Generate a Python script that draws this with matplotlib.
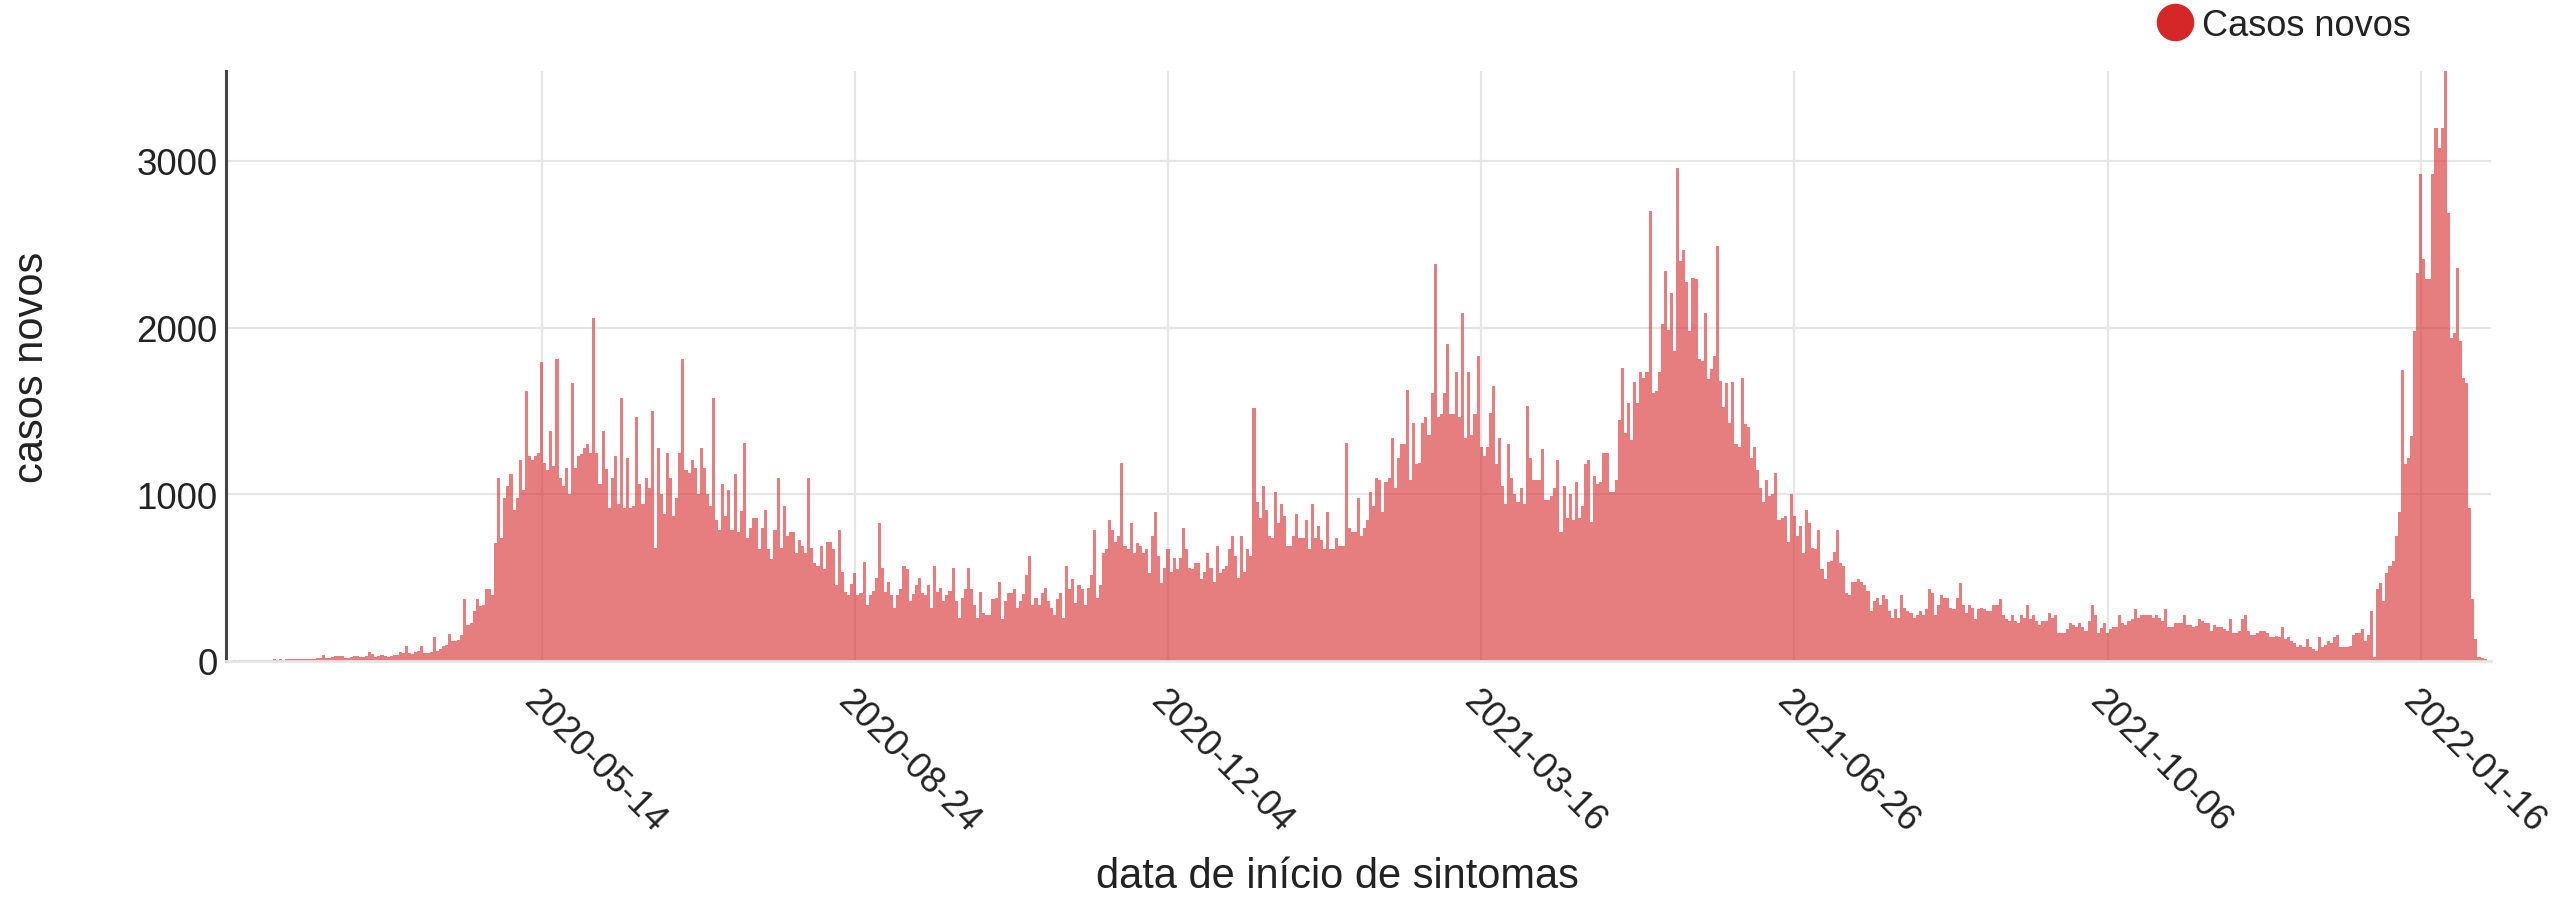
import pandas as pd
import matplotlib
matplotlib.use('Agg')
import matplotlib.pyplot as plt
import matplotlib.dates as mdates
from matplotlib.lines import Line2D

plt.rcParams['font.family'] = ['Liberation Sans', 'DejaVu Sans']

# daily new cases by symptom onset date, first day 2020-02-02
inicio = '2020-02-02'
casos_novos = [
    2, 1, 3, 2, 4, 3, 5, 4, 6, 5,
    4, 6, 8, 7, 6, 9, 8, 10, 7, 9,
    12, 10, 11, 9, 13, 12, 10, 14, 12, 15,
    20, 35, 18, 15, 22, 30, 28, 30, 20, 18,
    25, 30, 28, 22, 25, 30, 55, 40, 22, 30,
    35, 32, 25, 30, 38, 35, 55, 50, 90, 45,
    40, 55, 60, 90, 50, 48, 52, 145, 60, 70,
    90, 95, 160, 120, 120, 125, 155, 370, 215, 230,
    300, 370, 330, 334, 430, 430, 395, 710, 1100, 740,
    980, 1050, 1120, 905, 980, 1205, 1025, 1620, 1230, 1205,
    1230, 1250, 1795, 1190, 1145, 1380, 1170, 1810, 1100, 1050,
    1155, 1000, 1670, 1155, 1230, 1240, 1275, 1300, 1250, 2060,
    1250, 1060, 1380, 1150, 920, 1100, 1230, 940, 1575, 920,
    1215, 920, 930, 1465, 1060, 940, 1095, 1035, 1500, 680,
    1275, 1000, 880, 1250, 1100, 870, 980, 1250, 1810, 1145,
    1130, 1205, 1160, 1000, 1275, 1155, 1000, 930, 1575, 845,
    785, 1060, 870, 1025, 785, 1120, 775, 900, 1305, 740,
    800, 860, 860, 670, 800, 905, 670, 610, 785, 1095,
    680, 930, 750, 775, 775, 645, 725, 690, 645, 1095,
    680, 585, 570, 690, 550, 715, 715, 670, 455, 785,
    535, 415, 395, 460, 525, 395, 405, 595, 335, 395,
    420, 500, 825, 560, 415, 475, 395, 320, 395, 430,
    570, 550, 360, 400, 455, 500, 405, 395, 455, 320,
    570, 415, 440, 360, 395, 420, 560, 360, 260, 380,
    430, 560, 430, 335, 260, 415, 285, 275, 275, 370,
    380, 475, 250, 360, 405, 405, 430, 320, 360, 400,
    515, 630, 335, 380, 335, 405, 440, 360, 320, 275,
    370, 405, 260, 570, 430, 490, 345, 455, 430, 335,
    440, 515, 785, 380, 455, 645, 670, 845, 785, 715,
    750, 1190, 690, 670, 825, 645, 705, 690, 645, 670,
    525, 750, 895, 630, 465, 560, 670, 535, 620, 550,
    620, 800, 670, 560, 550, 585, 585, 490, 535, 645,
    560, 475, 690, 525, 550, 570, 670, 750, 630, 500,
    750, 535, 670, 630, 1515, 955, 860, 1050, 905, 750,
    740, 1015, 825, 940, 870, 690, 690, 750, 880, 740,
    740, 845, 670, 940, 740, 810, 725, 670, 895, 670,
    670, 740, 690, 690, 1305, 800, 775, 775, 980, 750,
    800, 845, 1015, 930, 1095, 1085, 895, 1075, 1100, 1340,
    1035, 1215, 1300, 1300, 1625, 1085, 1430, 1180, 1190, 1430,
    1465, 1355, 1610, 2380, 1465, 1480, 1610, 1900, 1480, 1480,
    1735, 1465, 2090, 1340, 1735, 1355, 1480, 1830, 1285, 1230,
    1285, 1485, 1650, 1180, 1335, 1050, 940, 1300, 1095, 1000,
    955, 1035, 940, 1530, 1215, 1085, 1085, 1085, 1270, 965,
    965, 990, 1035, 1205, 775, 1050, 860, 1000, 845, 1075,
    860, 930, 1180, 1205, 835, 1110, 1060, 1075, 1250, 1250,
    1015, 1015, 1085, 1445, 1760, 1370, 1550, 1325, 1675, 1550,
    1735, 1700, 1735, 2700, 1610, 1620, 1735, 2020, 2340, 1985,
    2205, 1860, 2955, 2400, 2465, 2275, 1980, 2300, 2290, 1810,
    1800, 2085, 1690, 1750, 1830, 2490, 1680, 1525, 1670, 1430,
    1675, 1300, 1285, 1700, 1420, 1405, 1215, 1285, 1145, 1035,
    955, 1085, 990, 1000, 1130, 845, 860, 870, 715, 1000,
    870, 750, 810, 645, 905, 825, 680, 670, 785, 550,
    490, 595, 600, 655, 785, 585, 570, 405, 395, 475,
    475, 490, 475, 455, 420, 300, 360, 380, 335, 395,
    370, 300, 260, 310, 260, 395, 320, 300, 285, 260,
    275, 300, 275, 310, 430, 405, 275, 335, 395, 380,
    380, 320, 310, 380, 465, 335, 285, 335, 320, 250,
    310, 320, 310, 300, 300, 335, 335, 370, 275, 250,
    240, 275, 240, 225, 275, 260, 335, 250, 275, 240,
    215, 240, 240, 285, 260, 275, 165, 170, 165, 190,
    225, 215, 205, 225, 205, 180, 240, 335, 275, 165,
    200, 225, 165, 190, 205, 205, 275, 225, 215, 240,
    250, 310, 260, 275, 275, 275, 275, 260, 275, 260,
    240, 310, 205, 205, 225, 225, 225, 275, 215, 215,
    205, 210, 250, 240, 225, 225, 180, 215, 205, 205,
    190, 180, 250, 165, 170, 180, 250, 275, 180, 155,
    155, 165, 180, 180, 165, 145, 145, 150, 145, 205,
    130, 145, 120, 105, 85, 95, 85, 130, 85, 70,
    60, 145, 85, 95, 120, 105, 145, 155, 85, 85,
    85, 90, 155, 165, 165, 190, 120, 155, 300, 25,
    430, 465, 360, 525, 570, 600, 750, 895, 1745, 1180,
    1215, 1350, 1980, 2325, 2920, 2410, 2290, 2290, 2920, 3195,
    3075, 3200, 3650, 2690, 1940, 1965, 2360, 1920, 1700, 1670,
    920, 370, 130, 25, 15, 10,
]

tick_dates = ['2020-05-14', '2020-08-24', '2020-12-04', '2021-03-16',
              '2021-06-26', '2021-10-06', '2022-01-16']
y_ticks = [0, 1000, 2000, 3000]

red = '#d62728'
grid_color = '#e6e6e6'
text_color = '#222222'

datas = pd.date_range(inicio, periods=len(casos_novos), freq='D')

fig = plt.figure(figsize=(25.63, 9.03), dpi=100)
ax = fig.add_axes([0.0882, 0.2669, 0.8837, 0.6534])

ax.bar(datas, casos_novos, width=1.0, color=red, alpha=0.6, linewidth=0)

x0 = mdates.date2num(pd.Timestamp(inicio))
ax.set_xlim(x0 - 0.8, x0 + 736.9)
ax.set_ylim(0, 3540)

ax.set_axisbelow(True)
ax.set_xticks([mdates.date2num(pd.Timestamp(d)) for d in tick_dates])
ax.set_xticklabels(tick_dates, rotation=-45, ha='left', va='top',
                   rotation_mode='anchor')
ax.set_yticks(y_ticks)
ax.set_yticklabels([str(v) for v in y_ticks])
ax.tick_params(axis='x', length=0, pad=16, labelsize=26, labelcolor=text_color)
ax.tick_params(axis='y', length=0, pad=6, labelsize=26.5, labelcolor=text_color)
ax.grid(True, color=grid_color, linewidth=1.6)

for side in ['top', 'right']:
    ax.spines[side].set_visible(False)
ax.spines['left'].set_color('#444444')
ax.spines['left'].set_linewidth(2.2)
ax.spines['bottom'].set_color(grid_color)
ax.spines['bottom'].set_linewidth(2.0)

ax.set_ylabel('casos novos', fontsize=30, color=text_color)
ax.yaxis.set_label_coords(-0.0768, 0.5)
ax.set_xlabel('data de início de sintomas', fontsize=30, color=text_color)
ax.xaxis.set_label_coords(0.4905, -0.33)

handle = Line2D([], [], marker='o', linestyle='', color=red, markersize=26)
fig.legend([handle], ['Casos novos'], loc='center left',
           bbox_to_anchor=(0.8414, 0.971), frameon=False, fontsize=26,
           handlelength=1.0, handletextpad=0.25, borderpad=0,
           borderaxespad=0, labelcolor=text_color)

fig.savefig('out.png', dpi=100)
